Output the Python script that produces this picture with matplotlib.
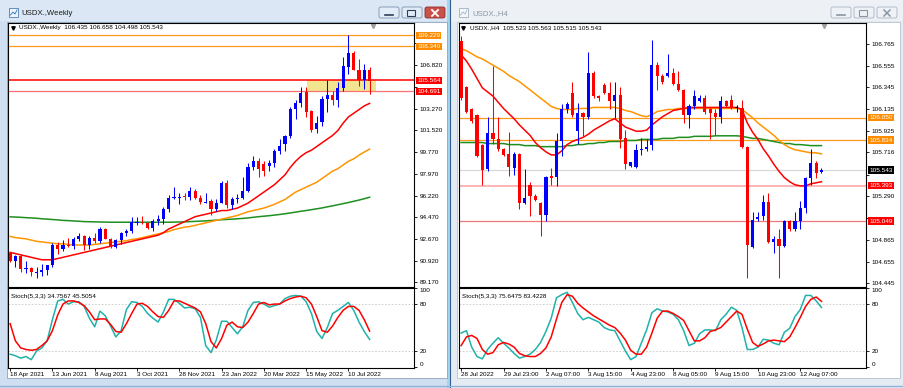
import numpy as np
import matplotlib.pyplot as plt
import matplotlib.patches as patches

W, H = 904, 388
plt.rcParams['font.family'] = ['Liberation Sans', 'DejaVu Sans']

# ------------------> Weekly data (USDX., Weekly) <------------------
wk_open = [91.55, 90.90, 91.28, 90.22, 90.31, 89.98, 90.03, 90.14, 90.56, 92.23,
           91.84, 92.23, 92.12, 92.68, 92.90, 92.17, 92.80, 92.52, 93.50, 92.70,
           92.05, 92.58, 93.20, 93.30, 94.04, 94.10, 93.96, 93.62, 94.12, 94.32,
           95.13, 96.03, 96.09, 96.16, 96.07, 96.61, 96.00, 95.67, 95.74, 95.16,
           95.64, 97.27, 95.47, 95.95, 96.05, 96.55, 98.50, 99.05, 98.80, 98.60,
           98.85, 99.80, 100.40, 101.08, 103.24, 103.70, 104.65, 103.05, 101.60, 102.20,
           104.04, 104.40, 103.95, 104.94, 106.64, 107.82, 106.42, 105.61, 106.435]
wk_high = [91.65, 91.35, 91.43, 90.90, 90.40, 90.40, 90.63, 90.55, 92.40, 92.42,
           92.60, 92.80, 92.85, 93.20, 93.00, 92.90, 93.20, 93.70, 93.60, 92.80,
           92.70, 93.25, 93.50, 94.50, 94.50, 94.56, 94.10, 94.30, 94.60, 95.30,
           96.25, 96.90, 96.45, 96.45, 96.90, 96.75, 96.30, 96.45, 95.90, 95.90,
           97.40, 97.45, 96.10, 96.35, 97.70, 98.90, 99.40, 99.30, 99.00, 99.10,
           100.00, 100.80, 101.10, 103.40, 104.00, 105.00, 105.00, 103.20, 102.70, 104.30,
           105.60, 104.70, 105.40, 107.50, 109.229, 107.95, 107.30, 106.90, 106.658]
wk_low = [90.85, 90.42, 89.98, 89.90, 89.68, 89.53, 89.66, 89.80, 90.42, 91.50,
          91.70, 92.00, 91.85, 92.50, 91.78, 91.85, 92.40, 92.40, 92.70, 91.95,
          91.95, 92.25, 92.95, 93.20, 93.80, 93.90, 93.50, 93.30, 93.80, 93.90,
          94.90, 95.90, 95.50, 95.85, 95.85, 95.90, 95.50, 95.60, 94.65, 95.00,
          95.60, 95.20, 95.15, 95.60, 95.90, 96.50, 98.30, 97.70, 97.80, 98.20,
          98.50, 99.60, 99.80, 100.90, 102.40, 103.40, 102.60, 101.40, 101.30, 101.90,
          103.00, 103.60, 103.40, 104.70, 106.10, 106.40, 105.10, 104.90, 104.498]
wk_close = [90.90, 91.28, 90.22, 90.31, 89.98, 90.03, 90.14, 90.56, 92.23, 91.84,
            92.23, 92.12, 92.68, 92.90, 92.17, 92.80, 92.52, 93.50, 92.70, 92.05,
            92.58, 93.20, 93.30, 94.04, 94.10, 93.96, 93.62, 94.12, 94.32, 95.13,
            96.03, 96.09, 96.16, 96.07, 96.61, 96.00, 95.67, 95.74, 95.16, 95.64,
            97.27, 95.47, 95.95, 96.05, 96.55, 98.50, 99.05, 98.35, 98.25, 98.85,
            99.80, 100.25, 101.08, 103.24, 103.70, 104.55, 103.00, 101.56, 102.10, 104.04,
            104.40, 103.95, 104.94, 106.74, 107.82, 106.42, 105.61, 106.42, 105.543]
wk_ma_red = [91.6, 91.5, 91.4, 91.3, 91.2, 91.1, 91.0, 91.0, 91.0, 91.1,
             91.2, 91.3, 91.4, 91.5, 91.6, 91.7, 91.8, 91.9, 92.0, 92.1,
             92.2, 92.3, 92.4, 92.5, 92.6, 92.7, 92.8, 92.9, 93.0, 93.2,
             93.5, 93.7, 93.9, 94.1, 94.3, 94.5, 94.6, 94.7, 94.8, 94.9,
             95.0, 95.0, 95.1, 95.2, 95.4, 95.6, 95.9, 96.2, 96.5, 96.8,
             97.1, 97.5, 97.9, 98.5, 99.0, 99.4, 99.7, 99.9, 100.2, 100.5,
             100.8, 101.1, 101.5, 102.1, 102.6, 102.9, 103.2, 103.5, 103.7]
wk_ma_orange = [92.9, 92.8, 92.75, 92.7, 92.6, 92.5, 92.45, 92.4, 92.35, 92.3,
                92.3, 92.25, 92.2, 92.2, 92.2, 92.2, 92.25, 92.3, 92.35, 92.4,
                92.45, 92.5, 92.55, 92.65, 92.7, 92.8, 92.9, 93.0, 93.1, 93.2,
                93.3, 93.45, 93.55, 93.65, 93.7, 93.8, 93.9, 94.0, 94.1, 94.2,
                94.3, 94.4, 94.5, 94.6, 94.75, 94.9, 95.0, 95.1, 95.2, 95.35,
                95.5, 95.7, 95.9, 96.2, 96.5, 96.7, 96.9, 97.1, 97.3, 97.6,
                97.9, 98.2, 98.4, 98.7, 99.0, 99.2, 99.5, 99.75, 99.99]
wk_ma_green = [94.49, 94.47, 94.45, 94.42, 94.4, 94.37, 94.33, 94.3, 94.27, 94.24,
               94.2, 94.18, 94.15, 94.13, 94.1, 94.09, 94.08, 94.07, 94.06, 94.05,
               94.05, 94.05, 94.05, 94.05, 94.05, 94.05, 94.05, 94.05, 94.05, 94.05,
               94.05, 94.06, 94.07, 94.08, 94.1, 94.12, 94.14, 94.16, 94.19, 94.22,
               94.25, 94.28, 94.3, 94.33, 94.36, 94.4, 94.45, 94.5, 94.54, 94.58,
               94.63, 94.68, 94.74, 94.8, 94.87, 94.94, 95.0, 95.07, 95.14, 95.21,
               95.3, 95.38, 95.47, 95.56, 95.65, 95.75, 95.85, 95.96, 96.08]
wk_stoch_k = [16, 14, 11, 13, 9, 20, 24, 33, 60, 84,
              86, 80, 83, 83, 77, 62, 51, 71, 65, 52,
              38, 46, 73, 83, 82, 77, 68, 62, 57, 70,
              86, 86, 81, 75, 76, 74, 63, 27, 18, 34,
              58, 58, 50, 42, 51, 72, 82, 83, 80, 76,
              78, 80, 87, 90, 91, 90, 83, 68, 45, 36,
              50, 68, 72, 77, 82, 72, 57, 45, 34.7567]
wk_stoch_d = [55, 33, 24, 22, 21, 22, 27, 33, 46, 66,
              80, 84, 84, 82, 78, 70, 60, 61, 61, 54,
              45, 44, 55, 68, 80, 81, 77, 70, 64, 63,
              72, 84, 84, 81, 78, 75, 70, 55, 32, 24,
              36, 53, 57, 51, 50, 57, 68, 80, 82, 79,
              80, 80, 84, 87, 89, 90, 88, 80, 64, 46,
              44, 52, 63, 72, 77, 77, 72, 60, 45.5054]
wk_levels = [109.229, 108.340, 105.564, 104.691]
wk_ticks = [89.170, 90.920, 92.670, 94.470, 96.220, 97.970, 99.770, 101.520, 103.270,
            105.070, 106.820, 108.570]
wk_hidden_ticks = [105.070, 108.570]   # covered by the coloured level labels
wk_date_pos = [0, 8, 16, 24, 32, 40, 48, 56, 64]
wk_date_labels = ['18 Apr 2021', '13 Jun 2021', '8 Aug 2021', '3 Oct 2021', '28 Nov 2021',
                  '23 Jan 2022', '20 Mar 2022', '15 May 2022', '10 Jul 2022']

# ------------------> H4 data (USDX., H4) <------------------
h4_open = [106.79, 106.35, 106.13, 106.08, 105.79, 105.55, 105.90, 105.84, 105.75, 105.70,
           105.56, 105.70, 105.22, 105.40, 105.29, 105.22, 105.11, 105.49, 105.48, 105.82,
           106.13, 106.29, 105.92, 106.10, 106.06, 106.48, 106.26, 106.37, 106.29, 106.21,
           106.27, 105.85, 105.58, 105.57, 105.74, 105.75, 105.79, 106.56, 106.45, 106.45,
           106.48, 106.38, 106.32, 106.08, 106.165, 106.21, 106.24, 106.13, 106.10, 106.06,
           106.21, 106.22, 106.15, 106.14, 105.77, 104.80, 105.07, 105.10, 105.23, 104.85,
           104.88, 104.81, 105.05, 104.97, 105.05, 105.18, 105.47, 105.61, 105.523]
h4_high = [106.84, 106.36, 106.14, 106.09, 105.80, 106.06, 106.55, 106.06, 105.76, 105.91,
           105.72, 105.71, 105.55, 105.43, 105.31, 105.23, 105.49, 105.56, 105.90, 106.18,
           106.20, 106.40, 106.19, 106.11, 106.69, 106.50, 106.27, 106.39, 106.40, 106.40,
           106.35, 105.93, 105.62, 105.80, 105.85, 105.84, 106.80, 106.59, 106.47, 106.67,
           106.53, 106.50, 106.33, 106.18, 106.32, 106.27, 106.27, 106.14, 106.13, 106.26,
           106.22, 106.27, 106.17, 106.22, 105.78, 105.14, 105.14, 105.30, 105.32, 104.90,
           104.97, 105.06, 105.06, 105.14, 105.24, 105.48, 105.75, 105.63, 105.563]
h4_low = [106.22, 106.10, 106.00, 105.67, 105.40, 105.53, 105.80, 105.73, 105.68, 105.49,
          105.50, 105.17, 105.21, 105.10, 105.24, 104.90, 105.05, 105.40, 105.39, 105.68,
          106.10, 106.06, 105.80, 105.87, 106.04, 106.24, 106.21, 106.28, 106.13, 106.05,
          105.76, 105.55, 105.57, 105.56, 105.69, 105.73, 105.74, 106.32, 106.38, 106.44,
          106.37, 106.31, 106.00, 105.95, 106.13, 106.20, 106.09, 105.84, 105.88, 106.00,
          106.15, 106.13, 106.11, 105.76, 104.50, 104.79, 105.05, 105.06, 104.84, 104.74,
          104.50, 104.80, 104.95, 104.95, 104.97, 105.13, 105.40, 105.47, 105.515]
h4_close = [106.24, 106.11, 106.02, 105.675, 105.54, 105.90, 105.84, 105.75, 105.69, 105.57,
            105.70, 105.22, 105.27, 105.29, 105.25, 105.11, 105.48, 105.47, 105.82, 106.13,
            106.18, 106.08, 106.10, 106.06, 106.48, 106.26, 106.24, 106.29, 106.21, 106.27,
            105.84, 105.60, 105.62, 105.74, 105.75, 105.77, 106.56, 106.45, 106.40, 106.48,
            106.38, 106.32, 106.08, 106.165, 106.256, 106.24, 106.11, 106.10, 106.06, 106.21,
            106.16, 106.15, 106.15, 105.77, 104.82, 105.06, 105.085, 105.23, 104.85, 104.88,
            104.805, 105.05, 104.97, 105.05, 105.18, 105.47, 105.61, 105.51, 105.543]
h4_ma_red = [106.66, 106.60, 106.52, 106.43, 106.34, 106.30, 106.26, 106.20, 106.14, 106.09,
             106.04, 105.98, 105.93, 105.88, 105.81, 105.76, 105.72, 105.69, 105.69, 105.73,
             105.79, 105.82, 105.84, 105.86, 105.89, 105.93, 105.96, 105.99, 106.02, 106.04,
             106.00, 105.96, 105.94, 105.92, 105.92, 105.93, 105.98, 106.02, 106.06, 106.09,
             106.12, 106.13, 106.14, 106.15, 106.15, 106.15, 106.15, 106.15, 106.15, 106.15,
             106.15, 106.15, 106.15, 106.13, 106.00, 105.91, 105.84, 105.75, 105.68, 105.60,
             105.53, 105.47, 105.43, 105.40, 105.39, 105.39, 105.41, 105.42, 105.43]
h4_ma_orange = [106.72, 106.70, 106.67, 106.64, 106.62, 106.59, 106.56, 106.53, 106.50, 106.46,
                106.43, 106.40, 106.36, 106.32, 106.28, 106.24, 106.20, 106.16, 106.14, 106.13,
                106.13, 106.13, 106.14, 106.14, 106.14, 106.15, 106.15, 106.15, 106.15, 106.15,
                106.14, 106.12, 106.11, 106.09, 106.07, 106.06, 106.08, 106.11, 106.12, 106.13,
                106.13, 106.14, 106.14, 106.14, 106.14, 106.14, 106.14, 106.14, 106.14, 106.14,
                106.14, 106.14, 106.14, 106.13, 106.09, 106.05, 106.00, 105.96, 105.92, 105.88,
                105.83, 105.79, 105.76, 105.74, 105.73, 105.72, 105.71, 105.71, 105.70]
h4_ma_green = [105.81, 105.81, 105.81, 105.81, 105.81, 105.80, 105.80, 105.80, 105.80, 105.79,
               105.79, 105.79, 105.78, 105.78, 105.78, 105.77, 105.77, 105.77, 105.77, 105.77,
               105.78, 105.78, 105.79, 105.79, 105.80, 105.80, 105.81, 105.81, 105.82, 105.82,
               105.82, 105.83, 105.83, 105.83, 105.84, 105.84, 105.84, 105.84, 105.85, 105.85,
               105.85, 105.86, 105.86, 105.86, 105.87, 105.87, 105.87, 105.87, 105.875, 105.875,
               105.875, 105.875, 105.875, 105.87, 105.86, 105.85, 105.85, 105.84, 105.83, 105.82,
               105.81, 105.80, 105.80, 105.79, 105.79, 105.785, 105.78, 105.78, 105.78]
h4_stoch_k = [43, 46, 25, 13, 10, 22, 30, 37, 30, 24,
              17, 11, 13, 16, 22, 31, 45, 62, 88, 92,
              95, 82, 68, 60, 63, 60, 57, 50, 47, 46,
              33, 20, 9, 13, 30, 47, 69, 74, 71, 70,
              67, 60, 46, 27, 30, 42, 47, 47, 46, 60,
              67, 76, 72, 50, 22, 22, 25, 35, 34, 30,
              28, 44, 49, 64, 73, 91, 91, 84, 75.6475]
h4_stoch_d = [27, 38, 40, 36, 22, 16, 18, 28, 31, 29,
              25, 17, 14, 13, 13, 17, 24, 38, 61, 82,
              92, 90, 81, 75, 70, 65, 61, 57, 53, 50,
              43, 34, 21, 16, 16, 25, 43, 62, 71, 71,
              68, 64, 59, 46, 33, 33, 37, 45, 47, 50,
              57, 64, 71, 67, 48, 31, 26, 29, 33, 34,
              33, 32, 38, 50, 63, 77, 86, 89, 83.4228]
h4_levels = [106.050, 105.834, 105.543, 105.393, 105.049]
h4_ticks = [104.445, 104.655, 104.865, 105.080, 105.290, 105.500, 105.716, 105.925,
            106.135, 106.345, 106.555, 106.765]
h4_hidden_ticks = [105.080, 105.500]   # covered by the coloured level labels
h4_date_pos = [0, 8, 16, 24, 32, 40, 48, 56, 64]
h4_date_labels = ['28 Jul 2022', '29 Jul 23:00', '2 Aug 07:00', '3 Aug 15:00', '4 Aug 23:00',
                  '8 Aug 05:00', '9 Aug 15:00', '10 Aug 23:00', '12 Aug 07:00']

# ------------------> Styles <------------------
FS = 4.6
UP, DN = '#0000ff', '#ff0000'
C_RED, C_ORANGE, C_GREEN, C_TEAL = '#ff0000', '#ff9500', '#1f8f1f', '#20b2aa'


def place(x0, y0, x1, y1):
    return [x0 / W, 1 - y1 / H, (x1 - x0) / W, (y1 - y0) / H]


def draw_candles(ax, o, h, l, c, min_body):
    o, h, l, c = map(np.asarray, (o, h, l, c))
    x = np.arange(len(o))
    col = np.where(c > o, UP, np.where(c < o, DN, '#000000'))
    body = np.abs(c - o)
    thin = body < min_body
    ax.vlines(x, l, h, colors=col, lw=0.75, zorder=4)
    ax.bar(x, np.maximum(body, min_body), bottom=np.minimum(o, c) - np.where(thin, min_body / 2, 0),
           width=0.6, color=col, lw=0, zorder=5)


def style_axes(ax):
    ax.set_facecolor('white')
    for s in ax.spines.values():
        s.set_linewidth(0.8)
        s.set_color('black')
    ax.set_xlim(-0.4, 76.4)
    ax.yaxis.tick_right()
    ax.tick_params(axis='y', direction='out', length=2.5, width=0.6, pad=1.5,
                   labelsize=FS, right=True, left=False)
    ax.tick_params(axis='x', bottom=False, labelbottom=False)


def price_ticks(ax, ticks, hidden):
    ax.set_yticks(ticks)
    ax.set_yticklabels(['' if t in hidden else f'{t:.3f}' for t in ticks])


def price_label(ax, y, text, bg, fg='white'):
    ax.text(1.008, y, text, transform=ax.get_yaxis_transform(), fontsize=FS, color=fg,
            va='center', ha='left', zorder=20, clip_on=False,
            bbox=dict(boxstyle='square,pad=0.18', fc=bg, ec='none'))


def draw_stoch(ax, k, d, date_pos, date_labels, title):
    style_axes(ax)
    x = np.arange(len(k))
    ax.set_ylim(-1, 100.5)
    ax.axhline(80, color='#c8c8c8', lw=0.6, ls=(0, (2, 2)))
    ax.axhline(20, color='#c8c8c8', lw=0.6, ls=(0, (2, 2)))
    ax.plot(x, k, color=C_TEAL, lw=1.1, zorder=3)
    ax.plot(x, d, color=C_RED, lw=1.1, zorder=4)
    ax.set_yticks([0, 20, 80, 100])
    ax.set_yticklabels(['0', '20', '80', '100'])
    ax.get_yticklabels()[-1].set_va('top')
    ax.get_yticklabels()[0].set_va('bottom')
    ax.set_xticks(date_pos)
    ax.set_xticklabels(date_labels, ha='left')
    ax.tick_params(axis='x', bottom=True, labelbottom=True, direction='out', length=2.5,
                   width=0.6, pad=1, labelsize=FS)
    ax.text(0.008, 0.93, title, transform=ax.transAxes, fontsize=FS, va='top', ha='left')


fig = plt.figure(figsize=(W / 100, H / 100), dpi=100)
fig.patch.set_facecolor('#d4e2f1')

# ----> window chrome <----
bg = fig.add_axes([0, 0, 1, 1], zorder=0)
bg.set_xlim(0, W)
bg.set_ylim(H, 0)
bg.axis('off')
bg.add_patch(patches.Rectangle((0, 0), 450, H, fc='#cfdef0', ec='none'))
bg.add_patch(patches.Rectangle((0, 0), 450, 21, fc='#dbe7f4', ec='none'))
bg.add_patch(patches.Rectangle((447, 0), 3, H, fc='#a6d4ec', ec='none'))
bg.plot([450.5, 450.5], [0, H], color='#2f5f90', lw=0.8)
bg.add_patch(patches.Rectangle((451, 0), W - 451, H, fc='#e4ebf3', ec='none'))
bg.add_patch(patches.Rectangle((451, 0), W - 451, 21, fc='#edf1f6', ec='none'))
bg.add_patch(patches.Rectangle((7, 22), 440, 356, fc='white', ec='#8ea3bb', lw=0.6))
bg.add_patch(patches.Rectangle((457, 22), 443, 356, fc='white', ec='#b4c0cc', lw=0.6))
bg.plot([0, W], [385.5, 385.5], color='#8fb3d8', lw=1.0)

# title bars
bg.add_patch(patches.Rectangle((9, 8), 9, 9, fc='#eef4fb', ec='#4f7fb5', lw=0.6))
bg.plot([10.5, 13, 15, 17], [15, 12, 14, 10], color='#2f6fc0', lw=0.6)
bg.text(21, 13.5, 'USDX.,Weekly', fontsize=5.6, color='#1b1b1b', va='center')
bg.add_patch(patches.Rectangle((459, 8), 9, 9, fc='#f4f6f8', ec='#9fb0c2', lw=0.6))
bg.plot([460.5, 463, 465, 467], [15, 12, 14, 10], color='#9fb6d0', lw=0.6)
bg.text(472, 13.5, 'USDX.,H4', fontsize=5.6, color='#8a96a3', va='center')

for bx, fc, ec in [(378, '#e2ecf7', '#7d93ae'), (401, '#e2ecf7', '#7d93ae'), (424, '#c9514a', '#8b2e29'),
                   (830, '#eef2f6', '#a8b4c2'), (853, '#eef2f6', '#a8b4c2'), (876, '#eef2f6', '#a8b4c2')]:
    bg.add_patch(patches.FancyBboxPatch((bx + 1, 7), 20, 11, boxstyle='round,pad=0,rounding_size=2',
                                        fc=fc, ec=ec, lw=0.6))
for off, col in [(378, '#2d3f55'), (830, '#8b96a3')]:
    bg.plot([off + 7, off + 15], [14.5, 14.5], color=col, lw=1.2)
    bg.add_patch(patches.Rectangle((off + 23 + 6, 10), 8, 6, fc='none', ec=col, lw=0.8))
bg.plot([424 + 8, 424 + 14], [10, 16], color='white', lw=1.3)
bg.plot([424 + 8, 424 + 14], [16, 10], color='white', lw=1.3)
bg.plot([876 + 8, 876 + 14], [10, 16], color='#8b96a3', lw=1.1)
bg.plot([876 + 8, 876 + 14], [16, 10], color='#8b96a3', lw=1.1)

# ----> Weekly chart <----
ax1 = fig.add_axes(place(8, 23, 414, 286.5), zorder=2)
style_axes(ax1)
ax1.set_ylim(88.83, 110.23)
ax1.fill_between([56.1, 69.2], 104.691, 105.564, color='#f1e68f', lw=0, zorder=1)
ax1.axhline(wk_levels[0], color='#ff9a1f', lw=0.9, zorder=2)
ax1.axhline(wk_levels[1], color='#ff9a1f', lw=0.9, zorder=2)
ax1.axhline(wk_levels[2], color='#ff0000', lw=1.1, zorder=2)
ax1.axhline(wk_levels[3], color='#ff7070', lw=0.9, zorder=2)
xw = np.arange(len(wk_open))
ax1.plot(xw, wk_ma_green, color=C_GREEN, lw=1.1, zorder=3)
ax1.plot(xw, wk_ma_orange, color=C_ORANGE, lw=1.1, zorder=3)
ax1.plot(xw, wk_ma_red, color=C_RED, lw=1.1, zorder=3)
draw_candles(ax1, wk_open, wk_high, wk_low, wk_close, 0.08)
price_ticks(ax1, wk_ticks, wk_hidden_ticks)
price_label(ax1, wk_levels[0], f'{wk_levels[0]:.3f}', '#ff8c00')
price_label(ax1, wk_levels[1], f'{wk_levels[1]:.3f}', '#ff8c00')
price_label(ax1, wk_levels[2], f'{wk_levels[2]:.3f}', '#ff0000')
price_label(ax1, wk_levels[3], f'{wk_levels[3]:.3f}', '#ff0000')
ax1.text(11 / 406, 1 - 5 / 263.5, 'USDX.,Weekly  106.435 106.658 104.498 105.543', transform=ax1.transAxes,
         fontsize=FS, va='center', ha='left')
ax1.plot([4.5 / 406], [1 - 5 / 263.5], marker='v', ms=2.5, color='black', transform=ax1.transAxes)
ax1.plot([365 / 406], [1 - 2.5 / 263.5], marker='v', ms=3, color='#a0a0a0', transform=ax1.transAxes, clip_on=False)

ax2 = fig.add_axes(place(8, 288, 414, 367.5), zorder=2)
draw_stoch(ax2, wk_stoch_k, wk_stoch_d, wk_date_pos, wk_date_labels, 'Stoch(5,3,3) 34.7567 45.5054')

# ----> H4 chart <----
ax3 = fig.add_axes(place(459, 23, 866, 286.5), zorder=2)
style_axes(ax3)
ax3.set_ylim(104.415, 106.968)
ax3.axhline(h4_levels[0], color='#ff9a1f', lw=0.9, zorder=2)
ax3.axhline(h4_levels[1], color='#ff9a1f', lw=0.9, zorder=2)
ax3.axhline(h4_levels[2], color='#d9d9d9', lw=0.9, zorder=2)
ax3.axhline(h4_levels[3], color='#ffb4b4', lw=1.4, zorder=2)
ax3.axhline(h4_levels[4], color='#f07878', lw=0.9, zorder=2)
xh = np.arange(len(h4_open))
ax3.plot(xh, h4_ma_green, color=C_GREEN, lw=1.1, zorder=3)
ax3.plot(xh, h4_ma_orange, color=C_ORANGE, lw=1.1, zorder=3)
ax3.plot(xh, h4_ma_red, color=C_RED, lw=1.1, zorder=3)
draw_candles(ax3, h4_open, h4_high, h4_low, h4_close, 0.012)
price_ticks(ax3, h4_ticks, h4_hidden_ticks)
price_label(ax3, h4_levels[0], f'{h4_levels[0]:.3f}', '#ff8c00')
price_label(ax3, h4_levels[1], f'{h4_levels[1]:.3f}', '#ff8c00')
price_label(ax3, h4_levels[2], f'{h4_levels[2]:.3f}', '#000000')
price_label(ax3, h4_levels[3], f'{h4_levels[3]:.3f}', '#ff0000')
price_label(ax3, h4_levels[4], f'{h4_levels[4]:.3f}', '#ff0000')
ax3.text(11 / 407, 1 - 5 / 263.5, 'USDX.,H4  105.523 105.563 105.515 105.543', transform=ax3.transAxes,
         fontsize=FS, va='center', ha='left')
ax3.plot([4.5 / 407], [1 - 5 / 263.5], marker='v', ms=2.5, color='black', transform=ax3.transAxes)
ax3.plot([365 / 407], [1 - 2.5 / 263.5], marker='v', ms=3, color='#a0a0a0', transform=ax3.transAxes, clip_on=False)

ax4 = fig.add_axes(place(459, 288, 866, 367.5), zorder=2)
draw_stoch(ax4, h4_stoch_k, h4_stoch_d, h4_date_pos, h4_date_labels, 'Stoch(5,3,3) 75.6475 83.4228')

fig.savefig('out.png', dpi=100, facecolor=fig.get_facecolor())
